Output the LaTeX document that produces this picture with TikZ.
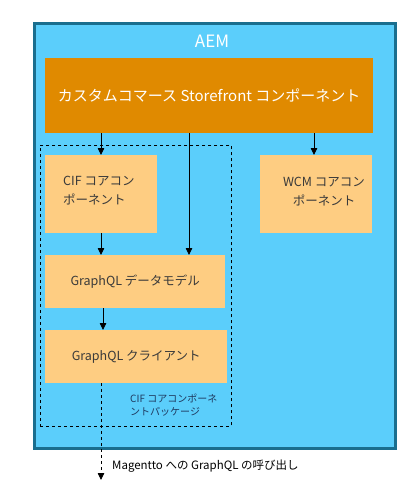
\documentclass[tikz,border=0pt]{standalone}
\usepackage{fontspec}
\setmainfont{Noto Sans CJK JP}
\usetikzlibrary{arrows.meta}
\definecolor{aemblue}{HTML}{5BCEFB}
\definecolor{aemborder}{HTML}{1A6E8E}
\definecolor{storeor}{HTML}{E08A00}
\definecolor{lightor}{HTML}{FECD82}
\definecolor{boxtext}{HTML}{3A3A3A}
\definecolor{navy}{HTML}{1F3A60}
\tikzset{
  lightbox/.style={draw=none, fill=lightor, text=boxtext, font=\fontsize{12.5}{15}\selectfont, inner sep=0pt},
  conn/.style={-{Triangle[length=7pt,width=6.5pt]}, line width=0.8pt, black},
}
\begin{document}
\begin{tikzpicture}[x=1pt,y=-1pt]
\useasboundingbox (0,0) rectangle (420,495);
% AEM box
\node[draw=aemborder, line width=3pt, fill=aemblue, minimum width=361pt, minimum height=424pt, anchor=north west, inner sep=0pt] (aem) at (32.5,22.5) {};
\node[text=white, font=\fontsize{17}{20}\selectfont] (aemlabel) at (212,41) {AEM};
% Storefront box
\node[fill=storeor, text=white, minimum width=328pt, minimum height=75pt, anchor=north west, inner sep=0pt, font=\fontsize{15}{18}\selectfont] (store) at (45,58) {カスタムコマース Storefront コンポーネント};
% dashed package
\node[draw=black, dashed, line width=0.7pt, minimum width=191pt, minimum height=281pt, anchor=north west, inner sep=0pt] (pkg) at (40,145) {};
% boxes
\node[lightbox, minimum width=112pt, minimum height=78pt, anchor=north west, align=left] (cif) at (45,155) {};
\node[text=boxtext, font=\fontsize{12.5}{19}\selectfont, align=left, anchor=north west, inner sep=0pt] (ciftext) at (63,176) {CIF コアコン\\ ポーネント};
\node[lightbox, minimum width=112pt, minimum height=78pt, anchor=north west] (wcm) at (260,155) {};
\node[text=boxtext, font=\fontsize{12.5}{19}\selectfont, align=center, inner sep=0pt] (wcmtext) at (324,192) {WCM コアコン\\ ポーネント};
\node[lightbox, minimum width=180pt, minimum height=53pt, anchor=north west] (dm) at (45,255) {GraphQL データモデル};
\node[lightbox, minimum width=182pt, minimum height=53pt, anchor=north west] (client) at (45,330) {GraphQL クライアント};
% package label
\node[text=navy, font=\fontsize{10}{12.5}\selectfont, align=left, anchor=north west, inner sep=0pt] (pkglabel) at (130,394) {CIF コアコンポーネ\\ントパッケージ};
% arrows
\draw[conn] (store.south -| 101,0) -- (cif.north -| 101,0);
\draw[conn] (store.south -| 189,0) -- (dm.north -| 189,0);
\draw[conn] (store.south -| 314,0) -- (wcm.north -| 314,0);
\draw[conn] (cif.south -| 101,0) -- (dm.north -| 101,0);
\draw[conn] (dm.south -| 103,0) -- (client.north -| 103,0);
\coordinate (magento) at (101,480);
\draw[conn, dashed] (client.south -| 101,0) -- (magento);
\node[text=black, font=\fontsize{11.5}{14}\selectfont, anchor=west, inner sep=0pt] (maglabel) at (112,466) {Magentto への GraphQL の呼び出し};
\end{tikzpicture}
\end{document}
